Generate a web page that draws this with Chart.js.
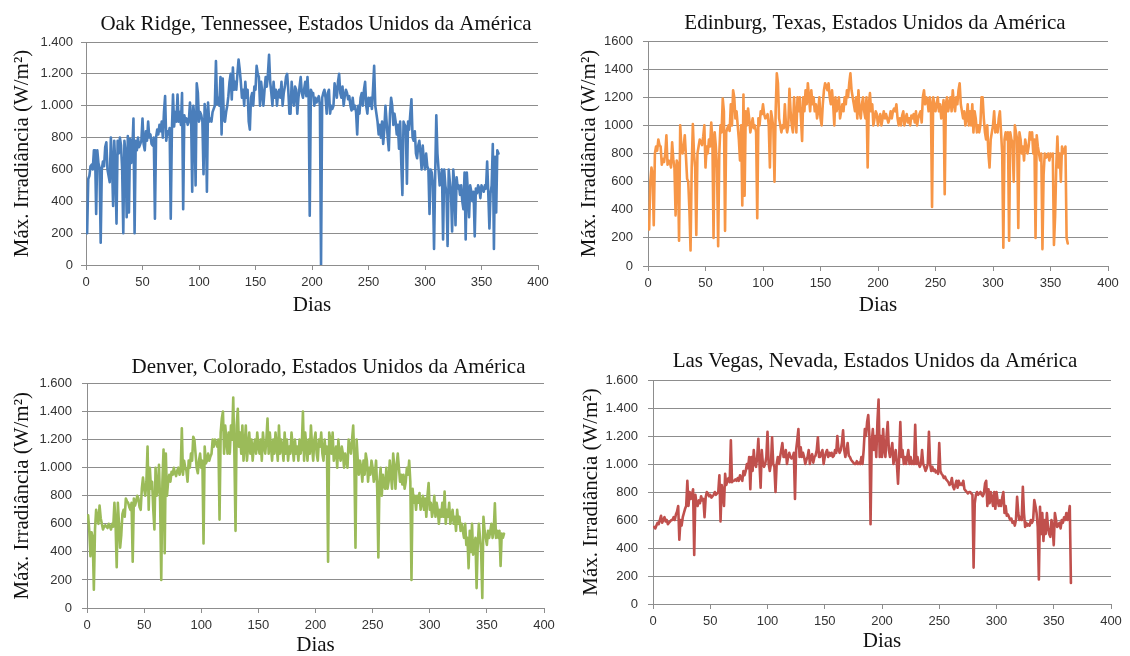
<!DOCTYPE html>
<html><head><meta charset="utf-8">
<script src="https://cdn.jsdelivr.net/npm/chart.js@4.4.0/dist/chart.umd.min.js"></script>
<style>
html,body{margin:0;padding:0;background:#fff;width:1130px;height:656px;overflow:hidden;position:relative;}
canvas{position:absolute;}
</style></head><body>
<canvas id="c1" width="565" height="330" style="left:0;top:0"></canvas>
<canvas id="c2" width="565" height="330" style="left:565px;top:0"></canvas>
<canvas id="c3" width="565" height="326" style="left:0;top:330px"></canvas>
<canvas id="c4" width="565" height="326" style="left:565px;top:330px"></canvas>
<script>
const days = Array.from({length: 365}, (_, i) => i + 1);

const xTickLabels = ['0','50','100','150','200','250','300','350','400'];
const yTicksOakRidge = ['0','200','400','600','800','1.000','1.200','1.400'];
const yTicksEdinburg = ['0','200','400','600','800','1000','1200','1400','1600'];
const yTicksDenver = ['0','200','400','600','800','1.000','1.200','1.400','1.600'];
const yTicksLasVegas = ['0','200','400','600','800','1.000','1.200','1.400','1.600'];

const oakRidge = [
200,540,560,620,630,600,720,720,320,720,
640,610,140,600,650,620,740,770,600,560,
520,800,640,370,780,620,260,780,700,800,
750,600,200,780,700,300,810,330,790,640,
720,920,200,780,720,800,740,760,780,920,
760,720,840,780,900,800,820,760,750,800,
290,800,850,820,880,840,900,800,960,1060,
780,840,820,860,290,840,1070,870,960,900,
1070,900,960,880,1080,350,940,900,920,880,
900,1020,940,460,1000,920,500,1140,1080,900,
960,940,900,570,1010,950,460,1020,900,920,
900,960,980,1000,1280,1010,1050,1000,1180,820,
1170,910,900,960,1000,1060,1150,1200,1040,1240,
1100,1150,1100,1200,1290,1230,1150,1050,1100,1000,
1150,1050,1100,900,850,1050,1080,1000,1120,1100,
1250,1200,1180,1000,1150,1080,1000,1100,1180,1120,
1200,1320,1150,1080,1000,1150,1050,1100,1000,1080,
1100,1050,1150,1000,1080,1120,1180,1200,1100,950,
950,1150,1050,1000,1120,1100,950,1050,1120,1180,
1080,1050,1100,1150,1060,1180,1050,310,1100,1080,
1080,1000,1050,1020,1040,1060,1000,0,1050,1080,
1100,1050,950,1080,1100,950,1000,980,1000,1140,
1100,1050,1150,1200,1080,1050,1120,1000,1060,1100,
1080,1040,1060,1000,970,1050,980,1000,960,820,
1000,950,1050,1080,1000,1100,1150,1000,950,1050,
1000,1050,980,1100,1250,1000,950,900,820,880,
800,900,760,850,1000,900,800,720,950,1050,
1000,880,950,900,820,880,730,900,640,440,
900,880,870,510,900,850,950,1040,800,780,
840,700,670,750,780,700,600,750,650,600,
700,620,600,320,600,580,500,100,560,940,
700,600,500,550,600,160,600,500,450,120,
600,520,450,210,600,500,250,550,480,500,
440,500,400,350,580,160,580,450,300,500,
460,400,460,180,480,450,500,480,420,500,
480,460,500,480,650,450,230,450,500,760,
100,680,330,720,700
];

const edinburg = [
260,600,700,650,290,800,850,820,900,860,
850,720,760,740,800,930,720,750,740,700,
880,760,700,360,750,720,180,1000,850,800,
850,930,780,620,600,400,110,700,1010,800,
700,220,800,850,900,880,860,920,1000,700,
850,800,900,850,1020,900,200,950,850,700,
140,800,1000,950,1190,1100,250,950,980,1000,
960,1150,1000,1250,1200,1050,1100,1000,900,750,
1000,430,1220,500,1100,1000,1120,1050,950,1000,
1050,980,1000,950,340,1050,1000,1100,1080,1150,
1080,1050,1060,1080,1000,700,1100,1050,980,600,
1100,1370,1300,1050,1000,950,1000,980,1150,1000,
950,1000,1260,1100,1000,950,1200,1050,950,1200,
1100,1200,1050,890,1200,1100,1250,1150,1300,1200,
1100,1250,1150,1200,1100,1150,1050,1100,1200,1050,
1000,1150,1250,1300,1280,1250,1300,1200,1150,1250,
1150,1000,1200,1100,1150,1200,1050,1100,1150,1100,
1200,1150,1250,1200,1300,1370,1250,1200,1150,1100,
1200,1050,1250,1100,1050,1150,1200,1100,1050,1200,
700,1150,1230,1100,1150,1000,1050,1100,1080,1000,
1050,1080,1000,1050,1100,1050,1080,1050,1020,1050,
1100,1050,1100,1120,1100,1150,1050,1000,1050,1000,
1070,1100,1000,1050,1080,1020,1050,1000,1070,1050,
1080,1020,1100,1000,1050,1080,1100,1020,1200,1250,
1150,1200,1180,1100,1200,1150,420,1200,1150,1100,
1150,1200,1100,1150,1050,1100,1180,510,1150,1200,
1100,1150,1200,1100,1250,1150,1100,1200,1150,1250,
1300,1150,1100,1050,1100,1000,1050,1150,1000,1100,
1000,1150,950,1100,1050,950,1000,950,1000,1200,
1200,1050,950,900,1000,800,700,900,950,1000,
1100,950,1000,950,1050,1100,950,800,130,900,
950,900,950,180,950,900,880,600,1000,950,
900,270,950,900,800,850,750,900,850,800,
850,950,900,950,800,900,200,930,850,800,
750,800,120,650,800,770,780,800,750,800,
780,800,150,350,700,920,700,800,600,850,
800,820,850,200,160
];

const denver = [
660,550,370,540,500,130,560,700,640,600,
730,640,600,560,580,590,580,570,600,580,
560,600,580,750,600,290,750,600,430,520,
670,700,650,780,760,750,720,700,750,330,
780,730,760,800,780,720,700,850,930,850,
800,900,1150,700,1000,850,900,700,560,1000,
800,850,1020,750,200,900,1130,390,1100,800,
900,950,900,970,950,1000,960,940,980,1000,
950,980,1280,950,1050,1000,980,900,1050,1000,
1100,1050,1220,1200,1100,1000,960,1050,1100,1000,
1050,460,1150,1030,1050,1100,1050,1080,1100,1200,
1150,1200,1180,1150,1200,630,1250,1350,1400,1100,
1300,1200,1100,1250,1100,1300,1200,1500,1100,550,
1300,1420,1150,1250,1100,1300,1050,1150,1300,1050,
1150,1250,1100,1200,1050,1150,1200,1100,1250,1150,
1100,1200,1050,1250,1150,1100,1200,1350,1100,1250,
1150,1050,1200,1100,1250,1150,1050,1300,1100,1200,
1150,1050,1250,1100,1200,1050,1150,1100,1250,1150,
1050,1200,1100,1150,1050,1200,1100,1150,1400,1050,
1250,1150,1050,1200,1100,1300,1150,1050,1200,1250,
1100,1050,1200,1150,1250,1100,1050,1200,1100,1150,
330,1250,1200,1100,1250,1050,1100,1150,1000,1200,
1100,1050,1150,1100,1000,1100,1050,1000,1200,1150,
1100,1200,1300,1050,430,1200,1050,950,1050,1000,
900,1050,950,1100,1050,900,1000,950,1050,1000,
900,950,1050,850,360,900,1000,800,950,870,
850,1000,850,900,1050,950,850,1100,1000,850,
1020,1100,1000,900,950,880,950,850,900,1000,
950,1050,900,200,850,750,800,700,800,750,
820,700,750,800,700,780,650,800,890,700,
750,650,700,800,650,750,700,600,700,650,
750,650,830,600,700,650,750,600,650,700,
600,650,550,700,600,650,550,600,550,500,
600,450,500,284,550,400,600,380,450,500,
142,450,600,500,400,71,650,550,500,450,
550,500,550,600,500,550,746,500,550,500,
550,300,530,500,530
];

const lasVegas = [
550,540,560,580,570,600,630,580,600,620,
590,600,570,580,590,600,600,620,600,640,
660,700,460,600,560,620,650,680,700,880,
700,800,750,780,820,350,780,720,700,740,
720,770,740,750,620,760,800,790,770,780,
760,770,780,800,780,790,800,920,590,850,
800,700,930,850,880,900,870,1170,870,880,
880,890,880,900,880,920,900,880,950,920,
950,1000,970,1050,820,1050,950,1100,1000,980,
1050,1180,1000,830,1100,1000,980,1000,1050,1230,
1000,950,1000,1190,1000,980,800,1000,1050,1000,
1050,1100,1150,1050,1050,1100,1000,1050,1080,1050,
1040,1050,1080,750,1100,1170,1250,1050,1120,1050,
1080,1050,1000,1030,1050,1100,1000,1050,1070,1010,
1050,1060,1100,1190,1050,1050,1080,1100,1000,1050,
1080,1100,1050,1080,1060,1080,1050,1060,1100,1080,
1200,1100,1080,1100,1150,1240,1100,1050,1100,1150,
1060,1050,1030,1020,1010,1000,1000,1020,1000,1010,
1000,1050,1000,1100,1250,1200,1300,1350,1200,570,
1150,1250,1100,1200,1050,1300,1460,1050,1200,1050,
1250,1100,1050,1200,1300,1100,1050,1100,1150,1000,
1050,1100,1000,860,1050,1300,1050,1100,1000,1050,
1000,1050,1100,1000,1050,1000,1020,1000,1280,1000,
1050,1000,980,1000,1100,1000,980,950,970,1000,
1230,1000,950,980,950,960,940,950,930,1150,
950,930,920,900,910,890,880,870,850,860,
900,840,820,850,880,830,880,850,860,850,
880,820,810,800,790,800,800,790,780,260,
720,780,800,780,790,800,780,770,790,860,
880,700,820,720,800,750,700,800,680,800,
740,700,740,700,760,800,650,700,630,640,
620,600,610,580,590,560,600,766,650,600,
620,600,838,650,550,580,560,570,560,600,
580,600,742,700,650,550,176,695,500,650,
450,600,500,650,550,500,480,600,550,420,
650,600,550,560,580,540,600,580,620,600,
650,600,640,700,150
];

const GRID = '#8d8d8d';
const SERIF = '"Liberation Serif", "Times New Roman", serif';
const SANS = '"Liberation Sans", Arial, sans-serif';

const titleShift = {
  id: 'titleShift',
  afterLayout(chart, args, opts) {
    const dx = opts.dx || 0;
    if (chart.titleBlock && dx) {
      chart.titleBlock.left += dx;
      chart.titleBlock.right += dx;
    }
  }
};

function makeChart(id, cfg) {
  const pts = cfg.values.map((v, i) => ({x: days[i], y: v}));
  return new Chart(document.getElementById(id), {
    type: 'line',
    data: { datasets: [{ data: pts, borderColor: cfg.color, borderWidth: 2.6, pointRadius: 0,
      tension: 0, fill: false, borderJoinStyle: 'round', borderCapStyle: 'round' }] },
    plugins: [titleShift],
    options: {
      responsive: false, animation: false, events: [],
      layout: { padding: { left: 0, right: cfg.padRight, top: 0, bottom: 0 } },
      plugins: {
        legend: { display: false }, tooltip: { enabled: false },
        titleShift: { dx: cfg.titleDx },
        title: { display: true, text: cfg.title, fullSize: false, color: '#111',
          font: { family: SERIF, size: 21, weight: 'normal', lineHeight: 1.2 },
          padding: { top: cfg.titleTop, bottom: cfg.titleBottom } }
      },
      scales: {
        x: { type: 'linear', min: 0, max: 400,
          ticks: { stepSize: 50, color: '#333', font: { family: SANS, size: 13 }, padding: 5,
            maxRotation: 0, autoSkip: false, callback: (v, i) => xTickLabels[i] },
          grid: { drawOnChartArea: false, drawTicks: true, tickLength: 5, color: GRID, lineWidth: 1 },
          border: { display: true, color: GRID, width: 1 },
          title: { display: true, text: 'Dias', color: '#111',
            font: { family: SERIF, size: 21, weight: 'normal', lineHeight: 1 },
            padding: { top: 0, bottom: cfg.diasBottom } },
          afterFit: s => { s.height = cfg.xHeight; } },
        y: { type: 'linear', min: 0, max: cfg.yMax,
          ticks: { stepSize: 200, color: '#333', font: { family: SANS, size: 13 }, padding: cfg.yTickPad,
            autoSkip: false, callback: (v, i) => cfg.yLabels[i] },
          grid: { color: GRID, lineWidth: 1, tickLength: 5, drawTicks: true },
          border: { display: true, color: GRID, width: 1 },
          title: { display: true, text: 'Máx. Irradiância (W/m²)', color: '#111',
            font: { family: SERIF, size: 21, weight: 'normal', lineHeight: 1.2 },
            padding: { top: cfg.yTitlePad, bottom: 0 } },
          afterFit: s => { s.width = cfg.yWidth; } }
      }
    }
  });
}

makeChart('c1', { values: oakRidge, color: '#4a7ebb', yMax: 1400, yLabels: yTicksOakRidge,
  title: 'Oak Ridge, Tennessee, Estados Unidos da América', titleDx: 4,
  padRight: 27, titleTop: 11.4, titleBottom: 5.4, xHeight: 65, diasBottom: 14.5, yTitlePad: 9.4, yTickPad: 8, yWidth: 86 });
makeChart('c2', { values: edinburg, color: '#f79646', yMax: 1600, yLabels: yTicksEdinburg,
  title: 'Edinburg, Texas, Estados Unidos da América', titleDx: -3,
  padRight: 22, titleTop: 11, titleBottom: 4.8, xHeight: 64, diasBottom: 14.5, yTitlePad: 11.4, yTickPad: 10, yWidth: 83 });
makeChart('c3', { values: denver, color: '#9bbb59', yMax: 1600, yLabels: yTicksDenver,
  title: 'Denver, Colorado, Estados Unidos da América', titleDx: 13,
  padRight: 21, titleTop: 24.9, titleBottom: 3.4, xHeight: 48, diasBottom: 0, yTitlePad: 9.4, yTickPad: 10, yWidth: 87 });
makeChart('c4', { values: lasVegas, color: '#c0504d', yMax: 1600, yLabels: yTicksLasVegas,
  title: 'Las Vegas, Nevada, Estados Unidos da América', titleDx: -7,
  padRight: 19, titleTop: 18.9, titleBottom: 5.9, xHeight: 52, diasBottom: 4.5, yTitlePad: 13.4, yTickPad: 10, yWidth: 88 });
</script>
</body></html>
